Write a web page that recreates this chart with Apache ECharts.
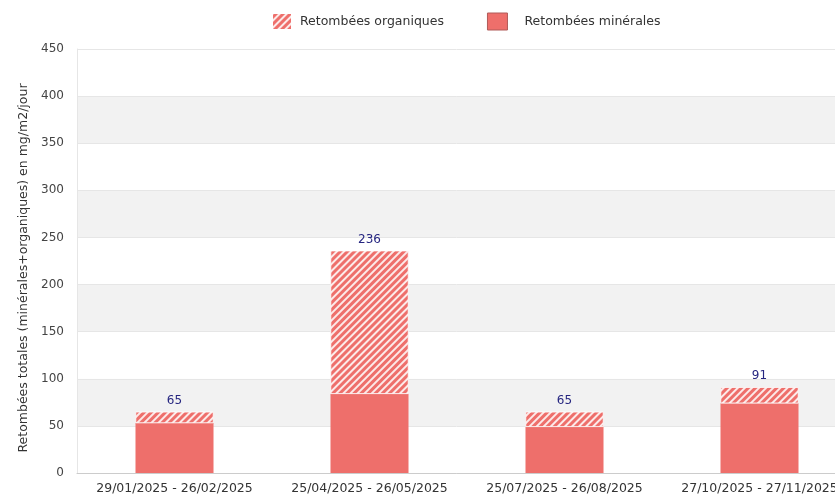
<!DOCTYPE html>
<html>
<head>
<meta charset="utf-8">
<script src="https://cdn.jsdelivr.net/npm/echarts@6/dist/echarts.min.js"></script>
<style>
html,body{margin:0;padding:0;background:#fff;}
#chart{width:835px;height:497px;}
</style>
</head>
<body>
<div id="chart"></div>
<script>
// périodes de prélèvement
const categories = ['29/01/2025 - 26/02/2025', '25/04/2025 - 26/05/2025', '25/07/2025 - 26/08/2025', '27/10/2025 - 27/11/2025'];
// retombées en mg/m2/jour
const minerales = [53, 84, 49, 74];
const organiques = [12, 152, 16, 17];
const totaux = [65, 236, 65, 91];
const yTicks = [0, 50, 100, 150, 200, 250, 300, 350, 400, 450];

const barColor = '#ee6f6b';
const font = 'DejaVu Sans';

let myCharts = echarts.init(document.getElementById('chart'));
myCharts.setOption({
    animation: false,
    textStyle: { fontFamily: font },
    legend: {
        top: 7,
        left: 266,
        itemWidth: 20,
        itemHeight: 17,
        itemGap: 43,
        icon: 'rect',
        textStyle: { fontFamily: font, fontSize: 12.5, color: '#333' },
        data: [
            { name: 'Retombées organiques', textStyle: { padding: [0, 0, 0, 3] } },
            { name: 'Retombées minérales', textStyle: { padding: [0, 0, 0, 12] },
              itemStyle: { borderColor: '#b05a58', borderWidth: 1 } }
        ]
    },
    // la zone de tracé dépasse à droite, comme sur l'original
    grid: { left: 77, right: -22, top: 49, bottom: 24, containLabel: false, outerBoundsMode: 'none' },
    xAxis: {
        type: 'category',
        data: categories,
        axisTick: { show: false },
        axisLine: { lineStyle: { color: '#ccc' } },
        axisLabel: { color: '#333', fontSize: 12.5, margin: 9, fontFamily: font, interval: 0, hideOverlap: false }
    },
    yAxis: {
        type: 'value',
        min: yTicks[0],
        max: yTicks[yTicks.length - 1],
        interval: 50,
        name: 'Retombées totales (minérales+organiques) en mg/m2/jour',
        nameLocation: 'middle',
        nameGap: 45,
        nameTextStyle: { color: '#333', fontSize: 12.5, fontFamily: font, padding: [0, 14, 0, 0] },
        axisLine: { show: true, lineStyle: { color: '#e6e6e6' } },
        axisTick: { show: false },
        axisLabel: { color: '#444', fontSize: 12, margin: 13, fontFamily: font },
        splitLine: { lineStyle: { color: '#e6e6e6' } },
        splitArea: { show: true, areaStyle: { color: ['#ffffff', '#f2f2f2'] } }
    },
    series: [
        {
            name: 'Retombées minérales',
            type: 'bar',
            stack: 'total',
            barWidth: '40%',
            data: minerales,
            itemStyle: { color: barColor }
        },
        {
            name: 'Retombées organiques',
            type: 'bar',
            stack: 'total',
            data: organiques,
            itemStyle: {
                color: barColor,
                borderColor: '#fff',
                borderWidth: 0.5,
                decal: {
                    symbol: 'rect',
                    dashArrayX: [1, 0],
                    dashArrayY: [1.2, 2.8],
                    rotation: -Math.PI / 4,
                    color: 'rgba(255,255,255,0.85)'
                }
            },
            label: {
                show: true,
                position: 'top',
                color: '#262680',
                fontSize: 12,
                fontFamily: font,
                formatter: p => totaux[p.dataIndex]
            }
        }
    ]
});
</script>
</body>
</html>
